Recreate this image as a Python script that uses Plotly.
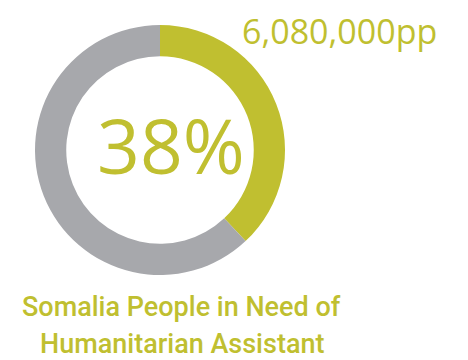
import plotly.graph_objects as go

labels = ["People in Need", "Others"]
values = [38, 62]
colors = ["#C0BF30", "#A7A8AC"]
center_label = "38%"
count_label = "6,080,000pp"
title_lines = ["Somalia People in Need of", "Humanitarian Assistant"]

W, H = 468, 360
fig = go.Figure(go.Pie(
    labels=labels, values=values, hole=0.75, sort=False,
    direction="clockwise", rotation=0,
    marker=dict(colors=colors, line=dict(width=0)),
    textinfo="none", hoverinfo="label+percent", showlegend=False,
    domain=dict(x=[35/W, 285/W], y=[1-275/H, 1-25/H]),
))

def note(x, y, text, family, size, weight=400):
    fig.add_annotation(x=x/W, y=1-y/H, xref="paper", yref="paper",
                       xanchor="center", yanchor="middle",
                       text=text, showarrow=False,
                       font=dict(family=family, size=size, color="#C0BF30", weight=weight))

note(171, 145, center_label, "Open Sans", 75)
note(339, 31, count_label, "Open Sans", 34)
note(181, 307, title_lines[0], "Roboto", 27, 500)
note(182, 344, title_lines[1], "Roboto", 27, 500)

fig.update_layout(width=W, height=H, margin=dict(l=0, r=0, t=0, b=0),
                  paper_bgcolor="white", plot_bgcolor="white")
fig.write_html("out.html")
